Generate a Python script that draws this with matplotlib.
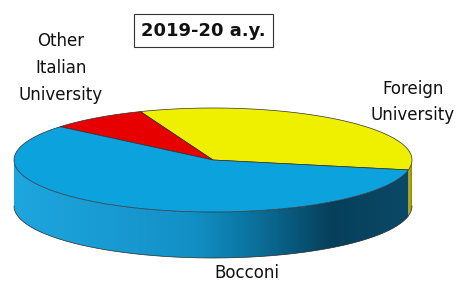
import numpy as np
import matplotlib
matplotlib.use("Agg")
import matplotlib.pyplot as plt
from matplotlib.patches import Polygon
from matplotlib.colors import LinearSegmentedColormap

# ---- data ----
categories = ["Foreign\nUniversity", "Other\nItalian\nUniversity", "Bocconi"]
shares = [34, 8, 58]
top_colors = ["#eef000", "#e60000", "#0ba2de"]
title = "2019-20 a.y."

# ---- layout ----
W, H = 459, 281
fig = plt.figure(figsize=(W / 100, H / 100), dpi=100)
ax = fig.add_axes([0, 0, 1, 1])
ax.set_xlim(0, W)
ax.set_ylim(H, 0)
ax.axis("off")

cx, cy, rx, ry, depth = 213, 160, 199, 52, 46
start = -11.0

def rim(t_deg, dy=0.0):
    t = np.radians(t_deg)
    return np.column_stack([cx + rx * np.cos(t), cy - ry * np.sin(t) + dy])

angles = start + np.concatenate([[0], np.cumsum(shares)]) / sum(shares) * 360.0

side_cmaps = [
    LinearSegmentedColormap.from_list("y", ["#c8c400", "#8f8a00"]),
    LinearSegmentedColormap.from_list("r", ["#b00000", "#800000"]),
    LinearSegmentedColormap.from_list(
        "b", [(0.0, "#1ea6de"), (0.25, "#189ad2"), (0.45, "#1290c6"),
              (0.6, "#0b729e"), (0.8, "#063f5a"), (1.0, "#0a4a68")]),
]

# sides (front half: angles between 180 and 360)
for i in range(len(shares)):
    a0, a1 = angles[i], angles[i + 1]
    segs = []
    for off in (-360, 0, 360):
        lo, hi = max(a0 + off, 180), min(a1 + off, 360)
        if hi > lo:
            segs.append((lo, hi))
    for lo, hi in segs:
        ts = np.linspace(lo, hi, 200)
        poly = np.vstack([rim(ts), rim(ts[::-1], depth)])
        patch = Polygon(poly, closed=True, facecolor="none", edgecolor="none")
        ax.add_patch(patch)
        xs = poly[:, 0]
        grad = np.linspace(0, 1, 256).reshape(1, -1)
        if i == 2:
            x_from, x_to = cx - rx, cx + rx
        else:
            x_from, x_to = xs.min(), xs.max()
        im = ax.imshow(grad, cmap=side_cmaps[i], aspect="auto",
                       extent=[x_from, x_to, cy + ry + depth + 5, cy - 5],
                       zorder=1, interpolation="bilinear")
        im.set_clip_path(patch)
        ax.plot(rim(ts, depth)[:, 0], rim(ts, depth)[:, 1],
                color="#2a2a2a", lw=0.5, zorder=2)

# top faces
for i in range(len(shares)):
    ts = np.linspace(angles[i], angles[i + 1], 300)
    poly = np.vstack([[cx, cy], rim(ts)])
    ax.add_patch(Polygon(poly, closed=True, facecolor=top_colors[i],
                         edgecolor="#303030", lw=0.5, zorder=3))

# labels
ax.text(61, 68, categories[1], ha="center", va="center", fontsize=12,
        linespacing=1.62, color="#111111")
ax.text(413, 102, categories[0], ha="center", va="center", fontsize=12,
        linespacing=1.55, color="#111111")
ax.text(247, 273, categories[2], ha="center", va="center", fontsize=12,
        color="#111111")
ax.text(203.5, 30.5, title, ha="center", va="center", fontsize=13,
        fontweight="bold", color="#111111",
        bbox=dict(boxstyle="square,pad=0.4", facecolor="white",
                  edgecolor="#333333", lw=0.8))

fig.savefig("out.png", dpi=100)
